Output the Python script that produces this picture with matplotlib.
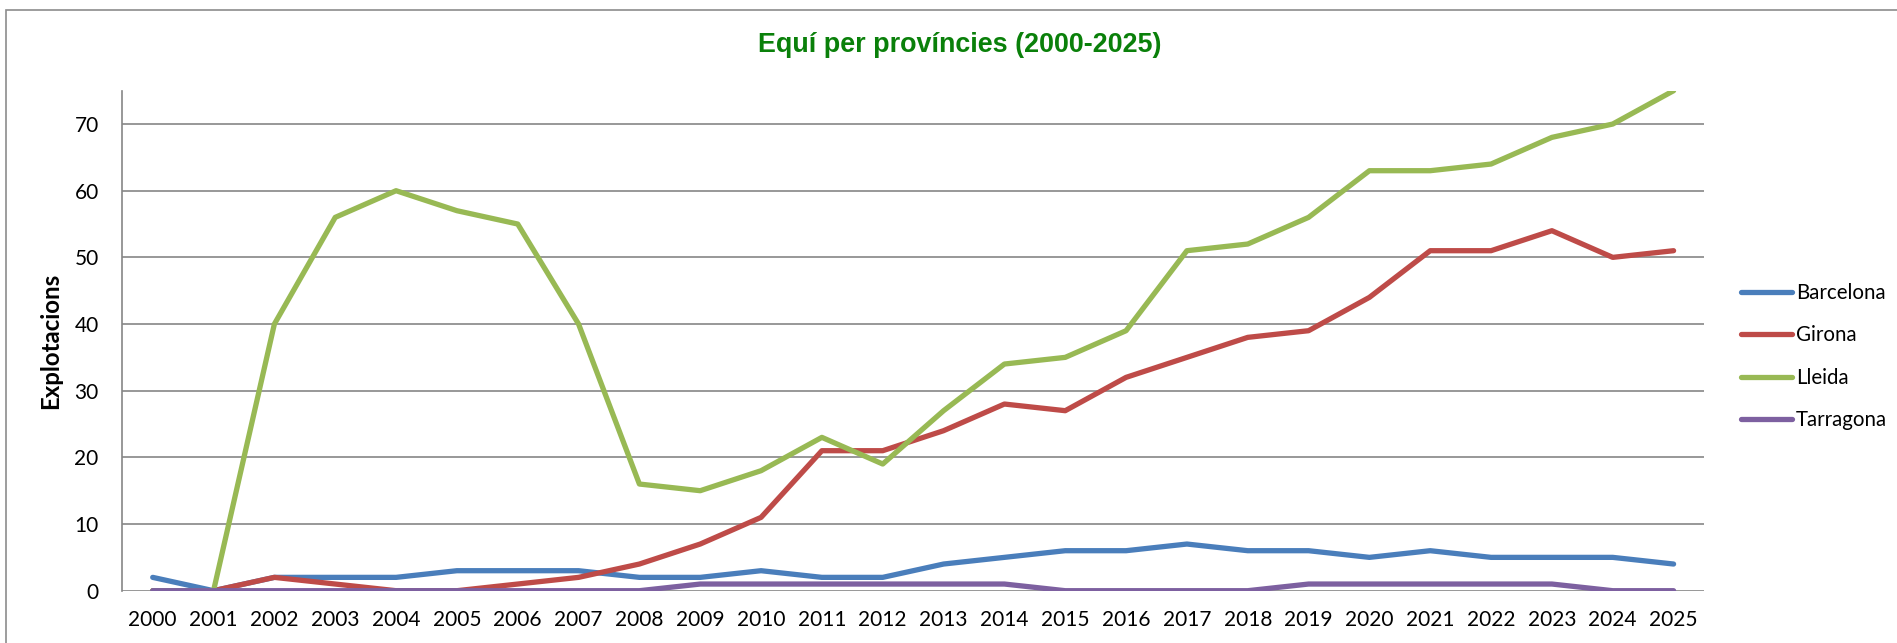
import matplotlib
matplotlib.use("Agg")
import matplotlib.pyplot as plt
from matplotlib.patches import Rectangle
import numpy as np

years = list(range(2000, 2026))

barcelona = [2, 0, 2, 2, 2, 3, 3, 3, 2, 2, 3, 2, 2, 4, 5, 6, 6, 7, 6, 6, 5, 6, 5, 5, 5, 4]
girona = [0, 0, 2, 1, 0, 0, 1, 2, 4, 7, 11, 21, 21, 24, 28, 27, 32, 35, 38, 39, 44, 51, 51, 54, 50, 51]
lleida = [0, 0, 40, 56, 60, 57, 55, 40, 16, 15, 18, 23, 19, 27, 34, 35, 39, 51, 52, 56, 63, 63, 64, 68, 70, 75]
tarragona = [0, 0, 0, 0, 0, 0, 0, 0, 0, 1, 1, 1, 1, 1, 1, 0, 0, 0, 0, 1, 1, 1, 1, 1, 0, 0]

series_names = ["Barcelona", "Girona", "Lleida", "Tarragona"]
series_values = [barcelona, girona, lleida, tarragona]
colors = ["#4A7EBB", "#BE4B48", "#98B954", "#7D60A0"]

plt.rcParams["font.family"] = ["Lato", "DejaVu Sans"]

W, H = 1897, 643
fig = plt.figure(figsize=(W / 100, H / 100), dpi=100)

# outer chart frame (runs off the right and bottom edges)
fig.patches.append(Rectangle((5.7 / W, -0.1), 1.2, 1 - 9.7 / H + 0.1,
                             transform=fig.transFigure, fill=False,
                             edgecolor="#8c8c8c", linewidth=1.2))

ax = fig.add_axes([122.3 / W, 1 - 590.7 / H, (1704 - 122.3) / W, (590.7 - 90.7) / H])

x = np.arange(len(years))
for name, vals, col in zip(series_names, series_values, colors):
    ax.plot(x, vals, color=col, linewidth=3.8, label=name,
            solid_capstyle="round", solid_joinstyle="round")

ax.set_xlim(-0.5, len(years) - 0.5)
ax.set_ylim(0, 75)
ax.set_yticks(range(0, 71, 10))
ax.set_xticks(x)
ax.set_xticklabels([str(y) for y in years])

ax.grid(axis="y", color="#868686", linewidth=1.2)
ax.set_axisbelow(True)
for s in ["top", "right", "bottom"]:
    ax.spines[s].set_visible(False)
ax.spines["left"].set_color("#868686")
ax.spines["left"].set_linewidth(1.2)
ax.tick_params(axis="both", length=0, labelsize=15, colors="black")
ax.tick_params(axis="y", pad=17)
ax.tick_params(axis="x", pad=14)

ax.set_ylabel("Explotacions", fontsize=17.3, fontweight="bold", labelpad=9)

fig.text(960 / W, 1 - 45 / H, "Equí per províncies (2000-2025)",
         ha="center", va="center", fontsize=19.4, fontweight="bold",
         color="#0a800a", family="Liberation Sans")

fig.legend(loc="upper left", bbox_to_anchor=(1740.7 / W, 1 - 283 / H),
           frameon=False, fontsize=14.8, handlelength=2.5, handletextpad=0.2,
           labelspacing=1.09, borderpad=0, borderaxespad=0)

fig.savefig("out.png", dpi=100)
